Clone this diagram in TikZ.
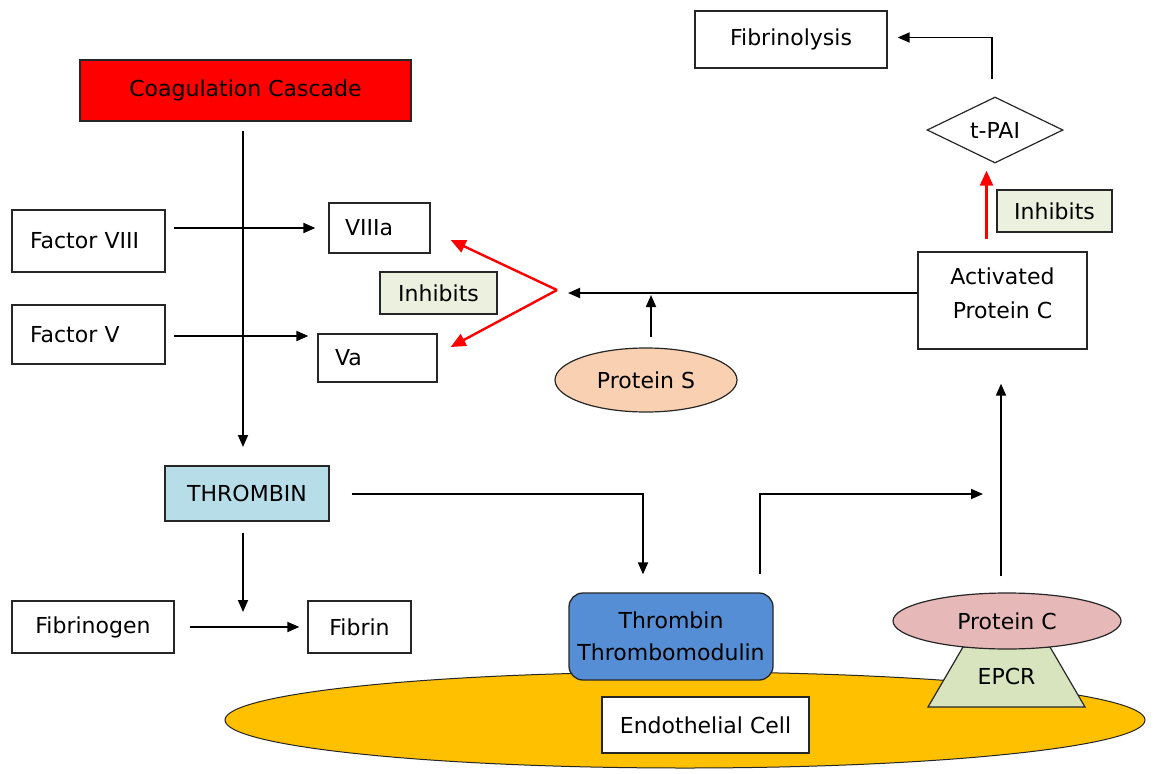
\documentclass[tikz,border=0pt]{standalone}
\usepackage{fontspec}
\setmainfont{DejaVu Sans}
\usetikzlibrary{shapes.geometric,arrows.meta}
\definecolor{cascred}{HTML}{FF0000}
\definecolor{thrblue}{HTML}{B7DEE8}
\definecolor{tmblue}{HTML}{558ED5}
\definecolor{inhgreen}{HTML}{EBF1DE}
\definecolor{peach}{HTML}{FAD0B2}
\definecolor{pink}{HTML}{E6B9B8}
\definecolor{epcrgreen}{HTML}{D7E4BD}
\definecolor{cellyellow}{HTML}{FFC000}
\definecolor{edge}{HTML}{262626}
\begin{document}
\begin{tikzpicture}[x=1pt,y=-1pt,
  txt/.style={font=\fontsize{22}{33}\selectfont},
  box/.style={txt,draw=edge,line width=1.3pt,fill=white,inner sep=0pt,align=center},
  lbox/.style={box,align=left},
  arr/.style={line width=1.8pt,-{Triangle[length=12pt,width=10pt]}},
  redarr/.style={draw=red,line width=2.4pt,-{Triangle[length=15pt,width=13pt]}}]
\useasboundingbox (0,0) rectangle (1155,773);
\fill[white] (0,0) rectangle (1155,773);

% endothelial cell
\node[ellipse,draw=edge,line width=1pt,fill=cellyellow,minimum width=920pt,minimum height=96pt,inner sep=0pt] (cell) at (685,720) {};
\node[box,minimum width=207pt,minimum height=56pt] (endo) at (705.5,725) {Endothelial Cell};

% boxes
\node[box,fill=cascred,minimum width=331pt,minimum height=61pt] (cascade) at (245.5,90.5) {Coagulation Cascade};
\node[lbox,inner xsep=18pt,text width=117pt,minimum height=62pt] (f8) at (88.5,241) {Factor VIII};
\node[lbox,inner xsep=18pt,text width=117pt,minimum height=59pt] (f5) at (88.5,334.5) {Factor V};
\node[lbox,inner xsep=16pt,text width=69pt,minimum height=50pt] (v8a) at (379.5,228) {VIIIa};
\node[lbox,inner xsep=17pt,text width=85pt,minimum height=48pt] (va) at (377.5,358) {Va};
\node[box,fill=inhgreen,minimum width=117pt,minimum height=42pt] (inh1) at (438.5,293) {Inhibits};
\node[box,minimum width=169pt,minimum height=97pt] (apc) at (1002.5,300.5) {};
\node[txt,align=center,inner sep=0pt,font=\fontsize{22}{34}\selectfont] (apctext) at (1002.5,293) {Activated\\Protein C};
\node[box,fill=inhgreen,minimum width=115pt,minimum height=42pt] (inh2) at (1054.5,211) {Inhibits};
\node[txt,diamond,draw=edge,line width=1.2pt,fill=white,inner sep=0pt,minimum width=136pt,minimum height=66pt,aspect=2.06] (tpai) at (995,130) {t-PAI};
\node[box,minimum width=192pt,minimum height=57pt] (fibrinolysis) at (791,39.5) {Fibrinolysis};
\node[txt,ellipse,draw=edge,line width=1.2pt,fill=peach,inner sep=0pt,minimum width=182pt,minimum height=64pt] (protS) at (646,380) {Protein S};
\node[box,fill=thrblue,minimum width=164pt,minimum height=55pt] (thrombin) at (247,493.5) {THROMBIN};
\node[box,minimum width=162pt,minimum height=52pt] (fibrinogen) at (93,627) {Fibrinogen};
\node[box,minimum width=103pt,minimum height=52pt] (fibrin) at (359.5,627) {Fibrin};
\node[box,fill=tmblue,rounded corners=14pt,minimum width=204pt,minimum height=87pt,font=\fontsize{22}{32}\selectfont] (tm) at (671,636.5) {Thrombin\\Thrombomodulin};
% EPCR trapezoid
\draw[draw=edge,line width=1.2pt,fill=epcrgreen] (928,707) -- (1085,707) -- (1050,647) -- (963,647) -- cycle;
\node[txt,inner sep=0pt] (epcr) at (1006.5,676) {EPCR};
\node[txt,ellipse,draw=edge,line width=1.2pt,fill=pink,inner sep=0pt,minimum width=228pt,minimum height=56pt] (protC) at (1007,621) {Protein C};

% coordinates
\coordinate (apex) at (557,290);
\coordinate (join) at (568,293);
\coordinate (fj) at (243,612);
\coordinate (cj) at (243,447);
\coordinate (tmc) at (983,494);

% connectors
\draw[arr,shorten <=9pt] (cascade.south -| cj) -- (cj);
\draw[arr,shorten <=8pt,shorten >=13pt] (f8.east |- v8a.west) -- (v8a.west);
\draw[arr,shorten <=8pt,shorten >=9pt] ([yshift=-1.5pt]f5.east) -- ([yshift=-1.5pt]f5.east -| va.west);
\draw[redarr] (apex) -- ([xshift=20pt,yshift=-12pt]v8a.east);
\draw[redarr] (apex) -- ([xshift=13pt,yshift=11pt]va.east);
\draw[arr] (join -| apc.west) -- (join);
\draw[arr,shorten <=10pt,shorten >=2pt] ([xshift=5pt]protS.north) -- ([xshift=5pt]protS.north |- join);
\draw[redarr,shorten <=12pt,shorten >=7pt] ([xshift=-16pt]apc.north) -- ([xshift=-16pt]apc.north |- tpai.south);
\draw[arr,shorten <=17pt] ([xshift=-3pt]tpai.north) |- ([xshift=10pt,yshift=2pt]fibrinolysis.east);
\draw[arr,shorten <=16pt,shorten >=34pt] ([xshift=-1.5pt]protC.north -| apc.south) -- ([xshift=-1.5pt]apc.south);
\draw[arr,shorten <=11pt] (thrombin.south -| fj) -- (fj);
\draw[arr,shorten <=15pt,shorten >=8pt] (fibrinogen.east) -- (fibrin.west);
\draw[arr,shorten <=22pt,shorten >=18pt] ([yshift=-0.5pt]thrombin.east) -| ([xshift=-28pt]tm.north);
\draw[arr,shorten <=18pt] ([xshift=89pt]tm.north) |- (tmc);
\end{tikzpicture}
\end{document}
